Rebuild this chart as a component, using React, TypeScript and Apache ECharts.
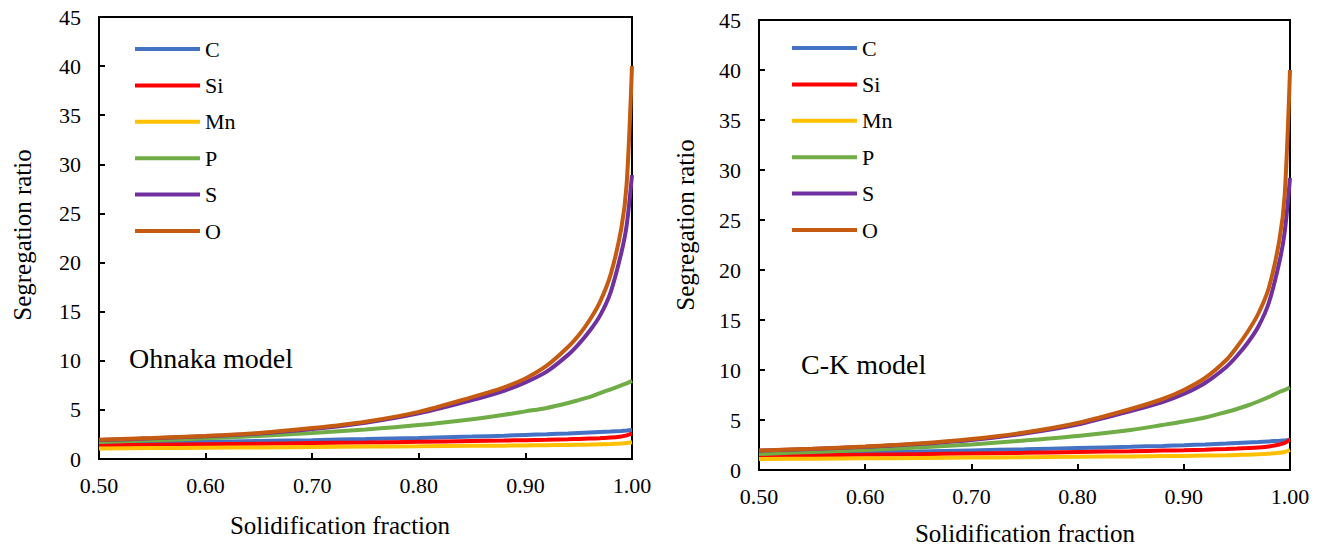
import React, { useEffect, useRef } from "react";
import * as echarts from "echarts";

const xs = [0.5, 0.55, 0.6, 0.65, 0.7, 0.75, 0.8, 0.85, 0.88, 0.9, 0.92, 0.94, 0.95, 0.96, 0.97, 0.98, 0.99, 0.995, 1.0];
const seriesNames = ["C", "Si", "Mn", "P", "S", "O"];
const colors = ["#4472C4", "#FF0000", "#FFC000", "#70AD47", "#7030A0", "#C55A11"];

// Ohnaka model
const ohC = [1.58, 1.66, 1.75, 1.83, 1.92, 2.03, 2.15, 2.28, 2.37, 2.45, 2.52, 2.6, 2.65, 2.7, 2.75, 2.8, 2.86, 2.9, 2.95];
const ohSi = [1.38, 1.44, 1.5, 1.56, 1.62, 1.68, 1.75, 1.83, 1.88, 1.92, 1.96, 2.01, 2.04, 2.08, 2.12, 2.18, 2.3, 2.4, 2.6];
const ohMn = [1.08, 1.11, 1.15, 1.18, 1.22, 1.26, 1.3, 1.34, 1.36, 1.38, 1.4, 1.43, 1.45, 1.47, 1.5, 1.53, 1.58, 1.62, 1.7];
const ohP = [1.72, 1.9, 2.1, 2.35, 2.65, 3.0, 3.45, 4.05, 4.5, 4.85, 5.2, 5.7, 6.0, 6.3, 6.7, 7.1, 7.5, 7.7, 7.95];
const ohS = [1.93, 2.1, 2.32, 2.6, 3.05, 3.7, 4.65, 6.0, 6.95, 7.8, 8.9, 10.6, 11.7, 13.0, 14.6, 17.0, 21.0, 23.8, 28.9];
const ohO = [1.95, 2.13, 2.35, 2.65, 3.15, 3.8, 4.8, 6.3, 7.3, 8.2, 9.5, 11.4, 12.6, 14.1, 16.0, 18.8, 23.5, 28.0, 40.0];

// C-K model
const ckC = [1.6, 1.68, 1.77, 1.86, 1.96, 2.07, 2.19, 2.32, 2.41, 2.48, 2.56, 2.65, 2.7, 2.75, 2.8, 2.86, 2.92, 2.96, 3.0];
const ckSi = [1.4, 1.46, 1.52, 1.58, 1.65, 1.72, 1.8, 1.88, 1.94, 1.98, 2.03, 2.1, 2.14, 2.19, 2.25, 2.35, 2.55, 2.7, 3.05];
const ckMn = [1.1, 1.13, 1.17, 1.2, 1.24, 1.28, 1.32, 1.36, 1.39, 1.41, 1.44, 1.47, 1.5, 1.53, 1.57, 1.63, 1.72, 1.8, 2.0];
const ckP = [1.6, 1.8, 2.0, 2.25, 2.55, 2.95, 3.4, 4.0, 4.5, 4.85, 5.25, 5.8, 6.1, 6.45, 6.85, 7.3, 7.8, 8.0, 8.25];
const ckS = [1.93, 2.1, 2.32, 2.6, 3.0, 3.65, 4.55, 5.9, 6.8, 7.6, 8.7, 10.3, 11.4, 12.7, 14.3, 16.7, 20.8, 23.8, 29.2];
const ckO = [1.95, 2.13, 2.35, 2.65, 3.1, 3.75, 4.7, 6.1, 7.1, 8.0, 9.2, 11.0, 12.3, 13.8, 15.6, 18.2, 23.0, 27.5, 40.0];

const ohnaka = [ohC, ohSi, ohMn, ohP, ohS, ohO];
const ck = [ckC, ckSi, ckMn, ckP, ckS, ckO];

const FONT = "'Liberation Serif', 'Times New Roman', serif";

export default function App() {
  const ref = useRef<HTMLDivElement>(null);
  useEffect(() => {
    if (!ref.current) return;
    const chart = echarts.init(ref.current, null, { renderer: "svg" });

    const grids = [
      { left: 99, top: 17, width: 533, height: 442 },
      { left: 759, top: 20, width: 531, height: 450 },
    ];

    const xAxis = grids.map((_, i) => ({
      type: "value",
      gridIndex: i,
      min: 0.5,
      max: 1.0,
      interval: 0.1,
      axisLine: { show: true, lineStyle: { color: "#000", width: 2 } },
      axisTick: { show: true, inside: true, length: 6, lineStyle: { color: "#000", width: 2 } },
      axisLabel: {
        color: "#000",
        fontSize: 22,
        fontFamily: FONT,
        margin: 15,
        formatter: (v: number) => v.toFixed(2),
      },
      splitLine: { show: false },
    }));

    const yAxis = grids.map((_, i) => ({
      type: "value",
      gridIndex: i,
      min: 0,
      max: 45,
      interval: 5,
      axisLine: { show: true, lineStyle: { color: "#000", width: 2 } },
      axisTick: { show: true, inside: true, length: 6, lineStyle: { color: "#000", width: 2 } },
      axisLabel: { color: "#000", fontSize: 22, fontFamily: FONT, margin: 18 },
      splitLine: { show: false },
    }));

    const series: any[] = [];
    [ohnaka, ck].forEach((set, gi) => {
      set.forEach((vals, si) => {
        series.push({
          name: seriesNames[si],
          type: "line",
          xAxisIndex: gi,
          yAxisIndex: gi,
          data: xs.map((x, k) => [x, vals[k]]),
          smooth: 0.3,
          showSymbol: false,
          symbol: "none",
          lineStyle: { color: colors[si], width: 4 },
          itemStyle: { color: colors[si] },
        });
      });
    });

    const legendBase = {
      orient: "vertical",
      icon: "rect",
      itemWidth: 65,
      itemHeight: 4,
      itemGap: 14.4,
      padding: 0,
      selectedMode: false,
      textStyle: { color: "#000", fontSize: 22, fontFamily: FONT, lineHeight: 22, padding: [0, 0, 0, 0] },
      data: seriesNames,
    };

    const text = (t: string, x: number, y: number, size: number, rot = 0, align = "center") => ({
      type: "text",
      x,
      y,
      rotation: rot,
      style: {
        text: t,
        fontSize: size,
        fontFamily: FONT,
        fill: "#000",
        align,
        verticalAlign: "middle",
      },
    });

    chart.setOption({
      animation: false,
      backgroundColor: "#fff",
      grid: grids.map((g) => ({ ...g, show: true, borderColor: "#000", borderWidth: 2, backgroundColor: "transparent" })),
      xAxis,
      yAxis,
      legend: [
        { ...legendBase, left: 135, top: 38 },
        { ...legendBase, left: 792, top: 37 },
      ],
      series,
      graphic: [
        text("Segregation ratio", 22, 235, 25, Math.PI / 2),
        text("Segregation ratio", 685, 225, 25, Math.PI / 2),
        text("Solidification fraction", 340, 525, 25),
        text("Solidification fraction", 1025, 533, 25),
        text("Ohnaka model", 129, 358, 28, 0, "left"),
        text("C-K model", 801, 364, 28, 0, "left"),
      ],
    });
    return () => chart.dispose();
  }, []);
  return (
    <div
      ref={ref}
      style={{ position: "absolute", left: 0, top: 0, width: 1322, height: 546, background: "#fff" }}
    />
  );
}
